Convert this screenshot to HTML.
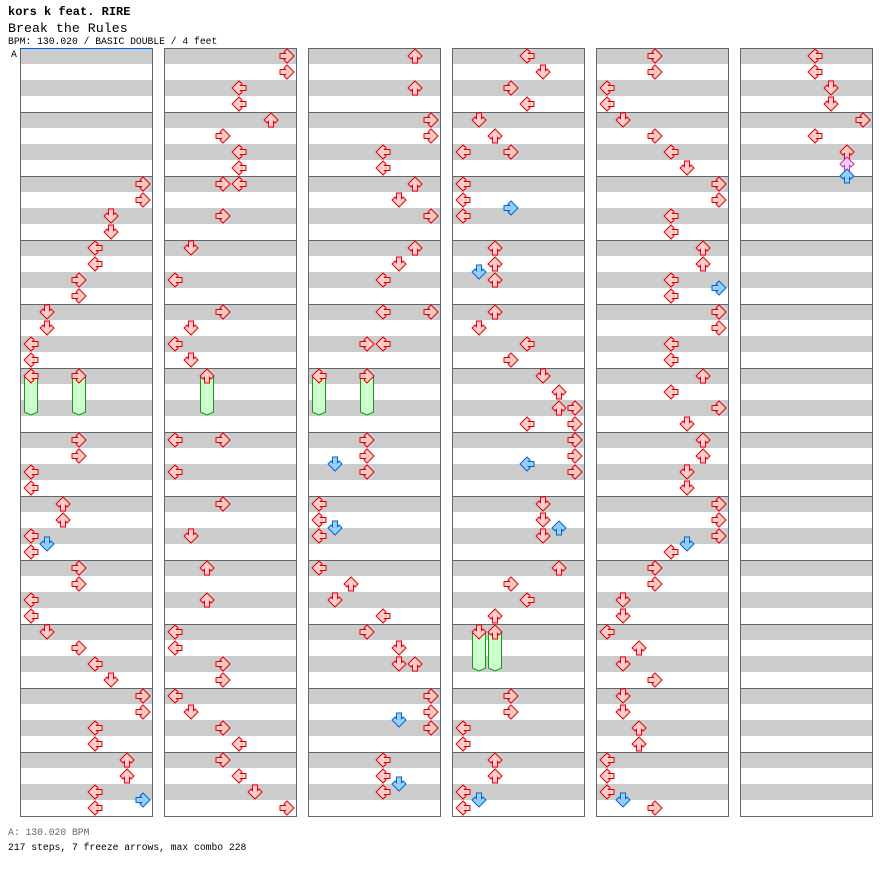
<!DOCTYPE html>
<html><head><meta charset="utf-8"><style>
html,body{margin:0;padding:0;background:#fff;width:896px;height:876px;overflow:hidden}
svg{display:block}
text{font-family:"Liberation Mono",monospace}
</style></head><body>
<svg id="chart" width="896" height="876" xmlns="http://www.w3.org/2000/svg">
<text x="8" y="15" font-size="12" font-weight="bold">kors k feat. RIRE</text>
<text x="8" y="32" font-size="13.3">Break the Rules</text>
<text x="8" y="44" font-size="9.7">BPM: 130.020 / BASIC DOUBLE / 4 feet</text>
<text x="11" y="57" font-size="9.7">A</text>
<g id="cols"></g>
<line x1="20" y1="48.5" x2="152" y2="48.5" stroke="#0066dd" stroke-width="1"/>
<text x="8" y="835" font-size="9.7" fill="#666">A: 130.020 BPM</text>
<text x="8" y="850" font-size="9.7">217 steps, 7 freeze arrows, max combo 228</text>
</svg>
<script>
const NS="http://www.w3.org/2000/svg";
// notes per column: [beat, lane]
const col1Notes=[[8,7],[9,7],[10,5],[11,5],[12,4],[13,4],[14,3],[15,3],[16,1],[17,1],[18,0],[19,0],[20,0],[20,3],[24,3],[25,3],[26,0],[27,0],[28,2],[29,2],[30,0],[30.5,1],[31,0],[32,3],[33,3],[34,0],[35,0],[36,1],[37,3],[38,4],[39,5],[40,7],[41,7],[42,4],[43,4],[44,6],[45,6],[46,4],[46.5,7],[47,4]];
const col2Notes=[[0,7],[1,7],[2,4],[3,4],[4,6],[5,3],[6,4],[7,4],[8,3],[8,4],[10,3],[12,1],[14,0],[16,3],[17,1],[18,0],[19,1],[20,2],[24,0],[24,3],[26,0],[28,3],[30,1],[32,2],[34,2],[36,0],[37,0],[38,3],[39,3],[40,0],[41,1],[42,3],[43,4],[44,3],[45,4],[46,5],[47,7]];
const col3Notes=[[0,6],[2,6],[4,7],[5,7],[6,4],[7,4],[8,6],[9,5],[10,7],[12,6],[13,5],[14,4],[16,4],[16,7],[18,3],[18,4],[20,0],[20,3],[24,3],[25,3],[25.5,1],[26,3],[28,0],[29,0],[29.5,1],[30,0],[32,0],[33,2],[34,1],[35,4],[36,3],[37,5],[38,5],[38,6],[40,7],[41,7],[41.5,5],[42,7],[44,4],[45,4],[45.5,5],[46,4]];
const col4Notes=[[0,4],[1,5],[2,3],[3,4],[4,1],[5,2],[6,0],[6,3],[8,0],[9,0],[9.5,3],[10,0],[12,2],[13,2],[13.5,1],[14,2],[16,2],[17,1],[18,4],[19,3],[20,5],[21,6],[22,6],[22,7],[23,4],[23,7],[24,7],[25,7],[25.5,4],[26,7],[28,5],[29,5],[29.5,6],[30,5],[32,6],[33,3],[34,4],[35,2],[36,1],[36,2],[40,3],[41,3],[42,0],[43,0],[44,2],[45,2],[46,0],[46.5,1],[47,0]];
const col5Notes=[[0,3],[1,3],[2,0],[3,0],[4,1],[5,3],[6,4],[7,5],[8,7],[9,7],[10,4],[11,4],[12,6],[13,6],[14,4],[14.5,7],[15,4],[16,7],[17,7],[18,4],[19,4],[20,6],[21,4],[22,7],[23,5],[24,6],[25,6],[26,5],[27,5],[28,7],[29,7],[30,7],[30.5,5],[31,4],[32,3],[33,3],[34,1],[35,1],[36,0],[37,2],[38,1],[39,3],[40,1],[41,1],[42,2],[43,2],[44,0],[45,0],[46,0],[46.5,1],[47,3]];
const col6Notes=[[0,4],[1,4],[2,5],[3,5],[4,7],[5,4],[6,6],[6.75,6],[7.5,6]];
const columns=[col1Notes,col2Notes,col3Notes,col4Notes,col5Notes,col6Notes];
// freezes
const freezeCol=[0,0,1,2,2,3,3];
const freezeLane=[0,3,2,0,3,1,2];
const freezeStart=[20,20,20,20,20,36,36];
const freezeEnd=[22,22,22,22,22,38,38];

const COL_X0=20, COL_STEP=144, COL_W=132, TOP=48, BEAT=16, BEATS=48;
function colX(c){return COL_X0+c*COL_STEP;}
function laneX(c,l){return colX(c)+3+l*16;}
function beatY(b){return TOP+b*BEAT;}
const rot=[-90,180,0,90];
const arrowPts="8,1 15,8 12,11 10.5,9.5 10.5,15 5.5,15 5.5,9.5 4,11 1,8";
function colorFor(b){
  const f=b-Math.floor(b);
  if(f===0) return ["#ffcccc","#dd0000"];
  if(Math.abs(f-0.5)<1e-6) return ["#99ccff","#0066cc"];
  return ["#ffccff","#bb33bb"];
}
const g=document.getElementById('cols');
columns.forEach((notes,c)=>{
  const cg=document.createElementNS(NS,'g');
  
  
  g.appendChild(cg);
  for(let r=0;r<BEATS;r++){
    const rc=document.createElementNS(NS,'rect');
    rc.setAttribute('x',colX(c));rc.setAttribute('y',beatY(r));
    rc.setAttribute('width',COL_W);rc.setAttribute('height',BEAT);
    rc.setAttribute('fill',r%2===0?'#cccccc':'#ffffff');
    
    
    cg.appendChild(rc);
  }
  for(let m=1;m<12;m++){
    const ln=document.createElementNS(NS,'line');
    ln.setAttribute('x1',colX(c));ln.setAttribute('x2',colX(c)+COL_W);
    ln.setAttribute('y1',beatY(m*4)+0.5);ln.setAttribute('y2',beatY(m*4)+0.5);
    ln.setAttribute('stroke','#666');
    
    
    cg.appendChild(ln);
  }
  const bx=document.createElementNS(NS,'rect');
  bx.setAttribute('x',colX(c)+0.5);bx.setAttribute('y',TOP+0.5);
  bx.setAttribute('width',COL_W);bx.setAttribute('height',BEATS*BEAT);
  bx.setAttribute('fill','none');bx.setAttribute('stroke','#666');
  
  
  cg.appendChild(bx);
});
// freezes
for(let i=0;i<freezeCol.length;i++){
  const x=laneX(freezeCol[i],freezeLane[i]);
  const y1=beatY(freezeStart[i])+8, y2=beatY(freezeEnd[i])+15;
  const p=document.createElementNS(NS,'path');
  p.setAttribute('d',`M${x+1.5},${y1} L${x+14.5},${y1} L${x+14.5},${y2-3} L${x+8},${y2} L${x+1.5},${y2-3} Z`);
  p.setAttribute('fill','#ccffcc');p.setAttribute('stroke','#119911');
  
  
  g.appendChild(p);
}
// arrows
columns.forEach((notes,c)=>{
  notes.forEach(n=>{
    const b=n[0], l=n[1];
    const [fill,stroke]=colorFor(b);
    const x=laneX(c,l), y=beatY(b);
    const pg=document.createElementNS(NS,'polygon');
    pg.setAttribute('points',arrowPts);
    pg.setAttribute('transform',`translate(${x},${y}) rotate(${rot[l%4]} 8 8)`);
    pg.setAttribute('fill',fill);pg.setAttribute('stroke',stroke);pg.setAttribute('stroke-width','1');
    
    
    g.appendChild(pg);
  });
});
</script>
</body></html>
